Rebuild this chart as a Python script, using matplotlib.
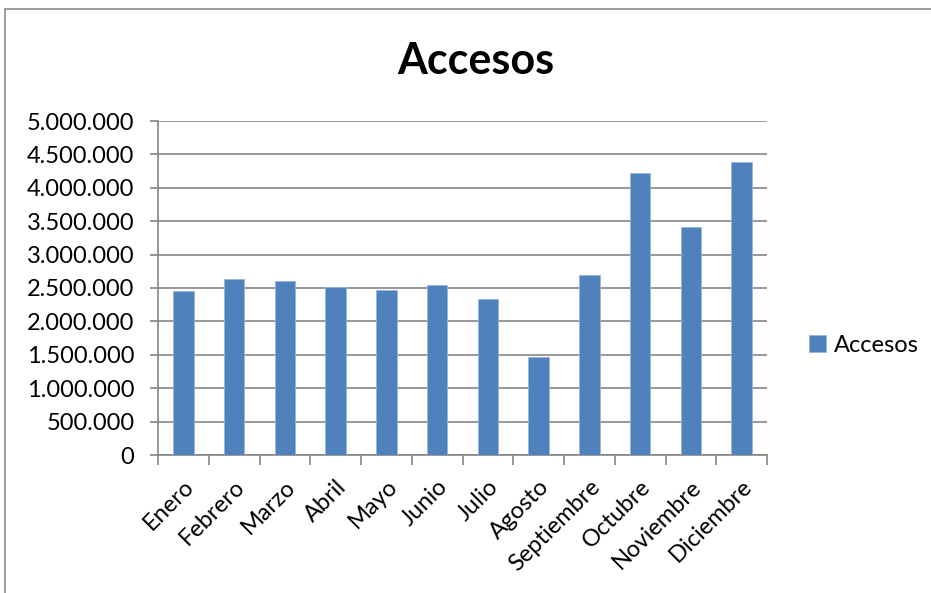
import numpy as np
import matplotlib.pyplot as plt
from matplotlib.ticker import FuncFormatter, MultipleLocator
from matplotlib.patches import Rectangle

# data
meses = ['Enero', 'Febrero', 'Marzo', 'Abril', 'Mayo', 'Junio', 'Julio',
         'Agosto', 'Septiembre', 'Octubre', 'Noviembre', 'Diciembre']
accesos = [2460000, 2635000, 2610000, 2510000, 2470000, 2540000, 2335000,
           1460000, 2690000, 4215000, 3420000, 4385000]

plt.rcParams['font.family'] = ['Lato', 'DejaVu Sans']

fig = plt.figure(figsize=(9.31, 5.93), dpi=100)
W, H = 931, 593

# outer chart frame (cut off at right and bottom)
fig.patches.append(Rectangle((5/W, -0.1), 1.2, 1 - 9/H + 0.1, transform=fig.transFigure,
                             fill=False, edgecolor='#8c8c8c', linewidth=1.2))

ax = fig.add_axes([158/W, 1 - 455/H, (767 - 158)/W, (455 - 121)/H])
x = np.arange(len(meses))
bars = ax.bar(x, accesos, width=0.4, color='#4F81BD', edgecolor='#9bb5d9',
              linewidth=0.6, label='Accesos', zorder=3)

ax.set_xlim(-0.5, len(meses) - 0.5)
ax.set_ylim(0, 5000000)
ax.yaxis.set_major_locator(MultipleLocator(500000))
ax.yaxis.set_major_formatter(FuncFormatter(lambda v, p: f'{int(v):,}'.replace(',', '.')))
ax.grid(axis='y', color='#868686', linewidth=1.2, zorder=0)

# x ticks between categories, labels at category centres
ax.set_xticks(np.arange(-0.5, len(meses), 1.0), minor=False)
ax.set_xticklabels([])
ax.set_xticks(x, minor=True)
ax.set_xticklabels(meses, minor=True, rotation=45, ha='right', rotation_mode='anchor',
                   fontsize=17)
ax.tick_params(axis='x', which='minor', length=0, pad=15)
ax.tick_params(axis='x', which='major', length=7, color='#868686', width=1.2)
ax.tick_params(axis='y', length=6, color='#868686', width=1.2, labelsize=17, pad=11)

for s in ['top', 'right']:
    ax.spines[s].set_visible(False)
for s in ['left', 'bottom']:
    ax.spines[s].set_color('#868686')
    ax.spines[s].set_linewidth(1.2)

fig.text(476/W, 1 - 61/H, 'Accesos', ha='center', va='center', fontsize=31,
         fontweight='bold')

ax.legend(loc='center left', bbox_to_anchor=(788/W, 1 - 345/H), bbox_transform=fig.transFigure,
          frameon=False, fontsize=17, handlelength=0.7, handleheight=0.7, handletextpad=0.35)

plt.savefig('out.png', dpi=100)
